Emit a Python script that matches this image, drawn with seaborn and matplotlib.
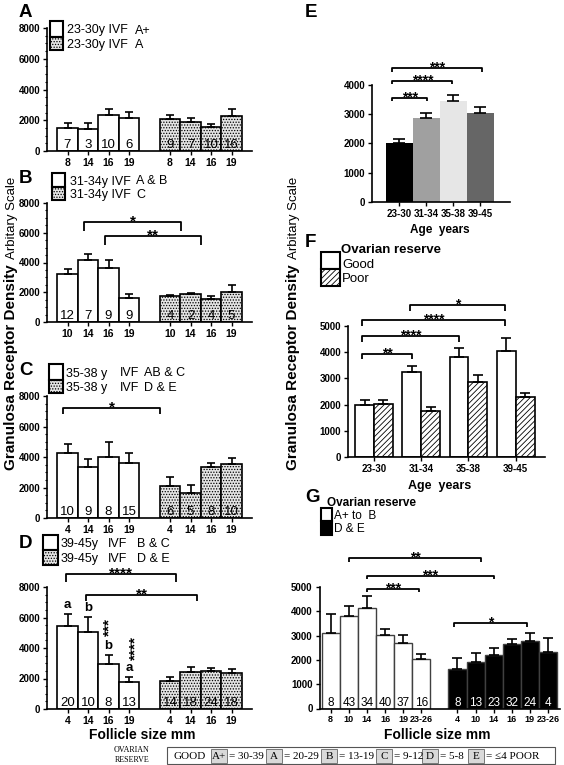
import numpy as np
import pandas as pd
import matplotlib
matplotlib.use("Agg")
import matplotlib.pyplot as plt
from matplotlib.patches import Rectangle
from matplotlib.ticker import MultipleLocator
import seaborn as sns

# ---------------- data ----------------
# panel A  (23-30y)
a_sizes = ["8", "14", "16", "19"]
a_good = [1480, 1460, 2370, 2170]
a_good_err = [350, 370, 350, 350]
a_good_n = [7, 3, 10, 6]
a_poor = [2090, 1870, 1565, 2300]
a_poor_err = [260, 300, 175, 400]
a_poor_n = [9, 7, 10, 16]

# panel B  (31-34y)
b_sizes = ["10", "14", "16", "19"]
b_good = [3230, 4140, 3650, 1600]
b_good_err = [310, 425, 510, 270]
b_good_n = [12, 7, 9, 9]
b_poor = [1780, 1890, 1540, 2000]
b_poor_err = [50, 30, 200, 490]
b_poor_n = [4, 2, 4, 5]

# panel C  (35-38y)
c_sizes = ["4", "14", "16", "19"]
c_good = [4260, 3340, 4000, 3630]
c_good_err = [610, 550, 990, 610]
c_good_n = [10, 9, 8, 15]
c_poor = [2100, 1660, 3340, 3520]
c_poor_err = [590, 480, 270, 440]
c_poor_n = [6, 5, 8, 10]

# panel D  (39-45y)
d_sizes = ["4", "14", "16", "19"]
d_good = [5470, 5080, 2920, 1740]
d_good_err = [780, 980, 650, 370]
d_good_n = [20, 10, 8, 13]
d_poor = [1810, 2420, 2480, 2350]
d_poor_err = [300, 350, 240, 260]
d_poor_n = [14, 18, 24, 18]
d_letters = ["a", "b", "b", "a"]

# panel E  (all ages)
ages = ["23-30", "31-34", "35-38", "39-45"]
e_vals = [2020, 2860, 3450, 3030]
e_err = [120, 170, 210, 200]
e_colors = ["#000000", "#a0a0a0", "#e6e6e6", "#666666"]

# panel F  (good vs poor reserve by age)
f_good = [1980, 3260, 3830, 4050]
f_good_err = [190, 230, 320, 470]
f_poor = [2030, 1760, 2860, 2310]
f_poor_err = [150, 170, 260, 130]

# panel G  (follicle size, A+ to B vs D & E)
g_sizes1 = ["8", "10", "14", "16", "19", "23-26"]
g_vals1 = [3110, 3810, 4150, 3010, 2700, 2040]
g_err1 = [770, 410, 470, 280, 330, 210]
g_n1 = [8, 43, 34, 40, 37, 16]
g_sizes2 = ["4", "10", "14", "16", "19", "23-26"]
g_vals2 = [1630, 1930, 2220, 2640, 2790, 2330]
g_err2 = [450, 340, 290, 220, 320, 570]
g_n2 = [8, 13, 23, 32, 24, 4]

# ovarian reserve key
reserve_grades = ["A+", "A", "B", "C", "D", "E"]
reserve_counts = ["30-39", "20-29", "13-19", "9-12", "5-8", "\u22644 POOR"]

# ---------------- setup ----------------
W, H = 564, 765
sns.set_theme(style="ticks", rc={"axes.edgecolor": "black", "xtick.color": "black",
                                 "ytick.color": "black", "text.color": "black",
                                 "axes.labelcolor": "black"})
plt.rcParams["font.family"] = ["Liberation Sans", "DejaVu Sans"]
plt.rcParams["font.weight"] = "bold"
plt.rcParams["hatch.linewidth"] = 0.6

DOT_FACE = "#e4e4e4"
fig = plt.figure(figsize=(W / 100, H / 100), dpi=100)


def px_axes(x0, y0, x1, y1):
    return fig.add_axes([x0 / W, 1 - y1 / H, (x1 - x0) / W, (y1 - y0) / H])


def ftext(x, y, s, **kw):
    return fig.text(x / W, 1 - y / H, s, **kw)


def fbox(x0, y0, x1, y1, **kw):
    fig.add_artist(Rectangle((x0 / W, 1 - y1 / H), (x1 - x0) / W, (y1 - y0) / H,
                             transform=fig.transFigure, **kw))


def style_axes(ax, ytop, ystep, minor=None, xfs=7):
    ax.set_ylim(0, ytop)
    ax.set_yticks(np.arange(0, ytop + 1, ystep))
    if minor:
        ax.yaxis.set_minor_locator(MultipleLocator(minor))
    ax.tick_params(axis="both", which="major", length=3, width=1, pad=2, labelsize=7)
    ax.tick_params(axis="x", labelsize=xfs)
    ax.tick_params(which="minor", length=1.8, width=0.8)
    ax.set_xlabel("")
    ax.set_ylabel("")
    for s in ["top", "right"]:
        ax.spines[s].set_visible(False)
    for s in ["left", "bottom"]:
        ax.spines[s].set_linewidth(1.2)


def bracket(ax, x1, x2, y, drop, label, fs=11):
    ax.plot([x1, x1, x2, x2], [y - drop, y, y, y - drop], color="black", lw=1.3,
            clip_on=False, solid_capstyle="butt")
    ax.annotate(label, ((x1 + x2) / 2, y), xytext=(0, -2.5), textcoords="offset points",
                ha="center", va="baseline", fontsize=fs, annotation_clip=False)


def follicle_panel(ax, sizes, v1, e1, n1, v2, e2, n2):
    keys1 = ["g1_" + s for s in sizes]
    keys2 = ["g2_" + s for s in sizes]
    df = pd.DataFrame({"key": keys1 + keys2, "val": v1 + v2,
                       "grp": ["g1"] * len(v1) + ["g2"] * len(v2)})
    order = keys1 + ["gap"] + keys2
    sns.barplot(data=df, x="key", y="val", order=order, hue="grp", hue_order=["g1", "g2"],
                palette={"g1": "white", "g2": DOT_FACE}, dodge=False, width=1,
                edgecolor="black", linewidth=1.2, errorbar=None, legend=False, ax=ax)
    for bar in ax.containers[1]:
        bar.set_hatch("......")
    pos = [order.index(k) for k in df["key"]]
    ax.errorbar(pos, df["val"], yerr=[np.zeros(len(df)), e1 + e2], fmt="none",
                ecolor="black", elinewidth=1.2, capsize=3, capthick=1.2)
    for p, n in zip(pos, n1 + n2):
        ax.annotate(str(n), (p, 0), xytext=(0, 2.5), textcoords="offset points",
                    ha="center", va="baseline", fontsize=9.5, fontweight="normal")
    ax.set_xticks(pos)
    ax.set_xticklabels(sizes + sizes)
    ax.set_xlim(-1, 9)
    style_axes(ax, 8000, 2000, minor=500, xfs=7.5)
    return pos


def legend_pair(x0, x1, ytop, ymid, ybot, txt_x, lines, grade_x, grades, fs=9):
    fbox(x0, ytop, x1, ymid, facecolor="white", edgecolor="black", lw=1.5)
    fbox(x0, ymid, x1, ybot, facecolor=DOT_FACE, edgecolor="black", lw=1.5, hatch="......")
    for yy, line, gr in zip([(ytop + ymid) / 2 + 4.5, (ymid + ybot) / 2 + 4.5], lines, grades):
        ftext(txt_x, yy, line, fontsize=fs, fontweight="normal", va="baseline")
        for gx, g in zip(grade_x, gr):
            ftext(gx, yy, g, fontsize=fs, fontweight="normal", va="baseline")


# ---------------- panel A ----------------
axA = px_axes(47, 28, 252, 151)
follicle_panel(axA, a_sizes, a_good, a_good_err, a_good_n, a_poor, a_poor_err, a_poor_n)
ftext(25, 17, "A", fontsize=13.5, ha="center", va="baseline")
legend_pair(50, 63, 21, 37, 50, 67, ["23-30y IVF", "23-30y IVF"], [135], [["A+"], ["A"]])

# ---------------- panel B ----------------
axB = px_axes(47, 203, 252, 322)
follicle_panel(axB, b_sizes, b_good, b_good_err, b_good_n, b_poor, b_poor_err, b_poor_n)
ftext(25, 183, "B", fontsize=13.5, ha="center", va="baseline")
legend_pair(52, 65, 173, 187, 200, 70, ["31-34y IVF", "31-34y IVF"], [136], [["A & B"], ["C"]])
for x1, x2, y, drop, lab in [(0.82, 5.55, 6700, 600, "*"), (1.84, 6.52, 5770, 600, "**")]:
    bracket(axB, x1, x2, y, drop, lab)

# ---------------- panel C ----------------
axC = px_axes(47, 396, 252, 518)
follicle_panel(axC, c_sizes, c_good, c_good_err, c_good_n, c_poor, c_poor_err, c_poor_n)
ftext(26, 375, "C", fontsize=13.5, ha="center", va="baseline")
legend_pair(49, 63, 364, 380, 393, 66, ["35-38 y", "35-38 y"], [120, 144],
            [["IVF", "AB & C"], ["IVF", "D & E"]])
bracket(axC, -0.2, 4.5, 7200, 400, "*")

# ---------------- panel D ----------------
axD = px_axes(47, 587, 252, 709)
posD = follicle_panel(axD, d_sizes, d_good, d_good_err, d_good_n, d_poor, d_poor_err, d_poor_n)
ftext(25, 548, "D", fontsize=13.5, ha="center", va="baseline")
legend_pair(43, 58, 535, 550, 565, 61, ["39-45y", "39-45y"], [108, 137],
            [["IVF", "B & C"], ["IVF", "D & E"]])
for x1, x2, y, drop, lab in [(-0.05, 5.3, 8850, 550, "****"), (0.9, 6.33, 7500, 400, "**")]:
    bracket(axD, x1, x2, y, drop, lab)
for p, v, e, let in zip(posD[:4], d_good, d_good_err, d_letters):
    axD.annotate(let, (p, v + e), xytext=(0, 2), textcoords="offset points",
                 ha="center", va="bottom", fontsize=9.5)
axD.text(posD[2] + 0.05, 5350, "***", rotation=90, ha="center", va="center", fontsize=11)
axD.text(posD[3] + 0.3, 4000, "****", rotation=90, ha="center", va="center", fontsize=11)
ftext(142, 739, "Follicle size mm", fontsize=10, ha="center", va="baseline")

# ---------------- panel E ----------------
axE = px_axes(372, 85, 510, 201.7)
sns.barplot(x=ages, y=e_vals, hue=ages, palette=e_colors, width=1, linewidth=0,
            errorbar=None, legend=False, ax=axE)
axE.errorbar(range(len(ages)), e_vals, yerr=[np.zeros(len(ages)), e_err], fmt="none",
             ecolor="black", elinewidth=1.2, capsize=4.3, capthick=1.2)
axE.set_xlim(-1, 4.1)
style_axes(axE, 4000, 1000, xfs=7)
for x1, x2, y, drop, lab in [(-0.25, 1.05, 3560, 110, "***"), (-0.25, 1.97, 4130, 100, "****"),
                             (-0.25, 3.05, 4580, 130, "***")]:
    bracket(axE, x1, x2, y, drop, lab, fs=10)
ftext(311, 17, "E", fontsize=13.5, ha="center", va="baseline")
ftext(440, 233.5, "Age  years", fontsize=8.5, ha="center", va="baseline")

# ---------------- panel F ----------------
axF = px_axes(348, 325.8, 545, 457.3)
dfF = pd.DataFrame({"age": ages * 2, "val": f_good + f_poor,
                    "reserve": ["Good"] * 4 + ["Poor"] * 4})
sns.barplot(data=dfF, x="age", y="val", hue="reserve", hue_order=["Good", "Poor"],
            palette={"Good": "white", "Poor": "white"}, width=0.8, dodge=True,
            edgecolor="black", linewidth=1.2, errorbar=None, legend=False, ax=axF)
for bar in axF.containers[1]:
    bar.set_hatch("//////")
xs = np.arange(len(ages))
axF.errorbar(np.r_[xs - 0.2, xs + 0.2], f_good + f_poor,
             yerr=[np.zeros(8), f_good_err + f_poor_err], fmt="none",
             ecolor="black", elinewidth=1.2, capsize=3.6, capthick=1.2)
axF.set_xlim(-0.55, 3.62)
style_axes(axF, 5000, 1000, xfs=7)
for x1, x2, y, drop, lab in [(-0.25, 0.8, 3930, 210, "**"), (-0.25, 1.8, 4610, 210, "****"),
                             (-0.25, 2.78, 5220, 220, "****"), (0.76, 2.78, 5780, 210, "*")]:
    bracket(axF, x1, x2, y, drop, lab, fs=10)
ftext(310, 247, "F", fontsize=13.5, ha="center", va="baseline")
ftext(341, 253, "Ovarian reserve", fontsize=9.5, va="baseline")
fbox(321, 252, 340, 269, facecolor="white", edgecolor="black", lw=1.5)
fbox(321, 269, 340, 286, facecolor="white", edgecolor="black", lw=1.5, hatch="//////")
ftext(342, 267.5, "Good", fontsize=9.5, fontweight="normal", va="baseline")
ftext(342, 281.5, "Poor", fontsize=9.5, fontweight="normal", va="baseline")
ftext(440, 489, "Age  years", fontsize=9, ha="center", va="baseline")

# ---------------- panel G ----------------
axG = px_axes(319.5, 587, 560, 708.5)
keysG1 = ["g1_" + s for s in g_sizes1]
keysG2 = ["g2_" + s for s in g_sizes2]
orderG = keysG1 + ["gap"] + keysG2
dfG = pd.DataFrame({"key": keysG1 + keysG2, "val": g_vals1 + g_vals2,
                    "grp": ["good"] * 6 + ["poor"] * 6})
sns.barplot(data=dfG, x="key", y="val", order=orderG, hue="grp", hue_order=["good", "poor"],
            palette={"good": "white", "poor": "black"}, dodge=False, width=1,
            edgecolor="#404040", linewidth=1.0, errorbar=None, legend=False, ax=axG)
posG = [orderG.index(k) for k in dfG["key"]]
axG.errorbar(posG, dfG["val"], yerr=[np.zeros(12), g_err1 + g_err2], fmt="none",
             ecolor="black", elinewidth=1.2, capsize=3.6, capthick=1.2)
for p, n, c in zip(posG, g_n1 + g_n2, ["black"] * 6 + ["white"] * 6):
    axG.annotate(str(n), (p, 0), xytext=(0, 2), textcoords="offset points",
                 ha="center", va="baseline", fontsize=8.5, fontweight="normal", color=c)
axG.set_xticks(posG)
axG.set_xticklabels(g_sizes1 + g_sizes2)
axG.set_xlim(-0.62, 12.66)
style_axes(axG, 5000, 1000, xfs=6.5)
for x1, x2, y, drop, lab in [(1.0, 8.3, 6200, 160, "**"), (2.0, 9.0, 5470, 140, "***"),
                             (2.0, 4.9, 4930, 140, "***"), (6.8, 10.85, 3530, 160, "*")]:
    bracket(axG, x1, x2, y, drop, lab, fs=10)
ftext(313, 502, "G", fontsize=13.5, ha="center", va="baseline")
ftext(327, 506, "Ovarian reserve", fontsize=8.5, va="baseline")
fbox(321, 508, 332, 521, facecolor="white", edgecolor="black", lw=1.5)
fbox(321, 521, 332, 535, facecolor="black", edgecolor="black", lw=1.5)
ftext(334, 519, "A+ to  B", fontsize=8.5, fontweight="normal", va="baseline")
ftext(334, 532, "D & E", fontsize=8.5, fontweight="normal", va="baseline")
ftext(437, 739, "Follicle size mm", fontsize=10, ha="center", va="baseline")

# ---------------- shared y labels ----------------
for bx in [15, 297]:
    t1 = ftext(bx, 470, "Granulosa Receptor Density", rotation=90, rotation_mode="anchor",
               ha="left", va="baseline", fontsize=11)
    fig.canvas.draw()
    bb = t1.get_window_extent()
    fig.text(bx / W, (bb.y1 + 5) / H, "Arbitary Scale", rotation=90, rotation_mode="anchor",
             ha="left", va="baseline", fontsize=9.5, fontweight="normal")

# ---------------- ovarian reserve key ----------------
serif = ["Liberation Serif", "DejaVu Serif"]
ftext(132, 752, "OVARIAN", family=serif, fontsize=5.8, fontweight="normal", ha="center", va="baseline")
ftext(132, 761.5, "RESERVE", family=serif, fontsize=5.8, fontweight="normal", ha="center", va="baseline")
fbox(167, 747, 555, 764, facecolor="white", edgecolor="#555555", lw=0.8)
ftext(173, 759, "GOOD", family=serif, fontsize=8, fontweight="normal", va="baseline")
grade_left = [211, 266, 321, 376, 422, 468]
for gx, g, cnt in zip(grade_left, reserve_grades, reserve_counts):
    fbox(gx, 748.5, gx + 16, 762.5, facecolor="#d9d9d9", edgecolor="#777777", lw=0.7)
    ftext(gx + 8, 759, g, family=serif, fontsize=8, fontweight="normal", ha="center", va="baseline")
    ftext(gx + 18, 759, "= " + cnt, family=serif, fontsize=8, fontweight="normal", va="baseline")

fig.savefig("out.png", dpi=100)
